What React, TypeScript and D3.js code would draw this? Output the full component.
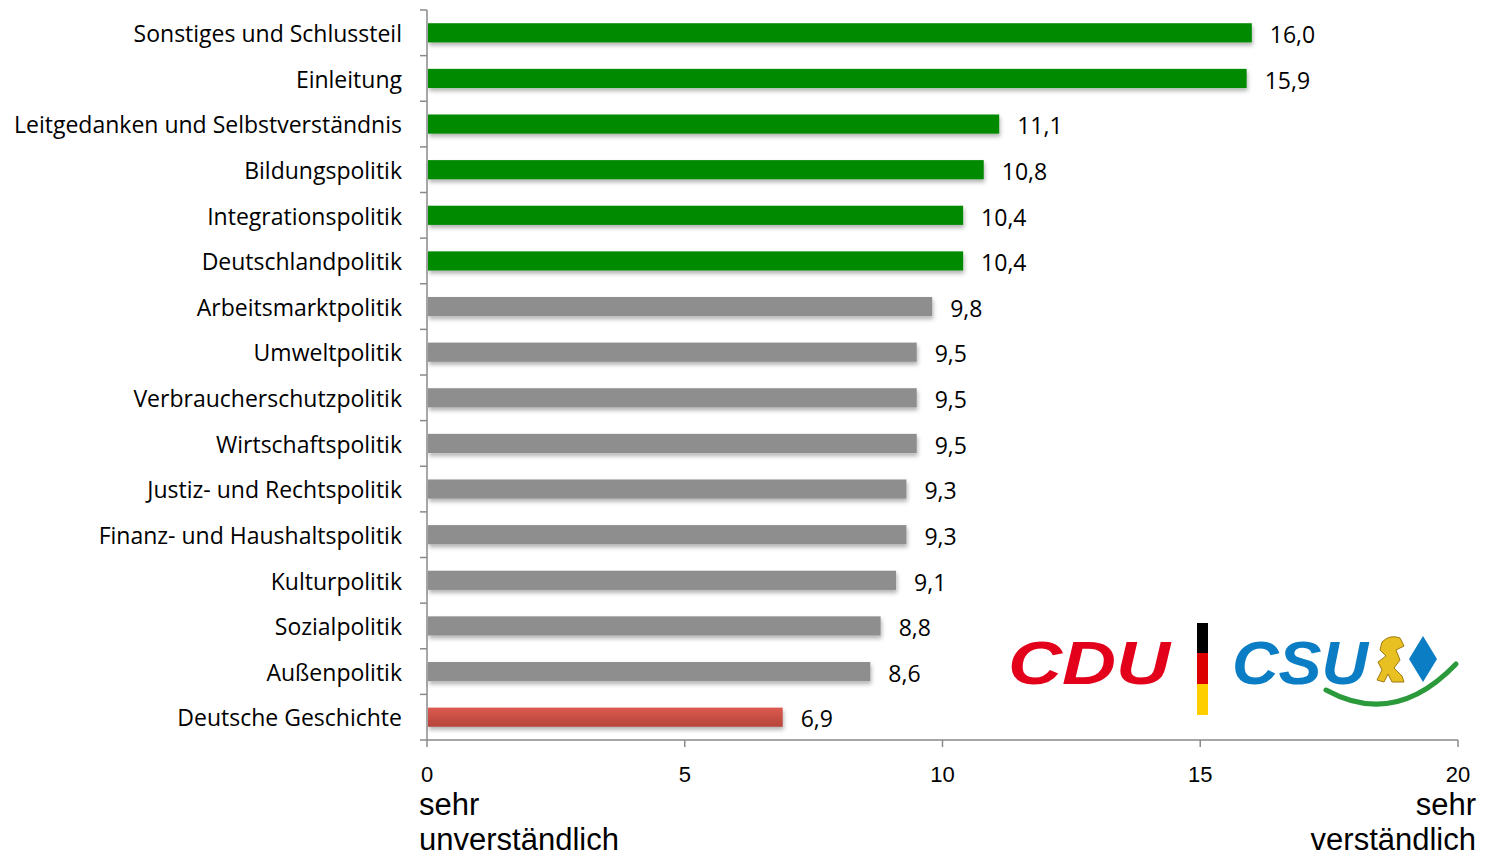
import React from "react";
import * as d3 from "d3";

const categories = [
  "Sonstiges und Schlussteil",
  "Einleitung",
  "Leitgedanken und Selbstverständnis",
  "Bildungspolitik",
  "Integrationspolitik",
  "Deutschlandpolitik",
  "Arbeitsmarktpolitik",
  "Umweltpolitik",
  "Verbraucherschutzpolitik",
  "Wirtschaftspolitik",
  "Justiz- und Rechtspolitik",
  "Finanz- und Haushaltspolitik",
  "Kulturpolitik",
  "Sozialpolitik",
  "Außenpolitik",
  "Deutsche Geschichte",
];
const values = [16.0, 15.9, 11.1, 10.8, 10.4, 10.4, 9.8, 9.5, 9.5, 9.5, 9.3, 9.3, 9.1, 8.8, 8.6, 6.9];
const groups = ["top", "top", "top", "top", "top", "top", "mid", "mid", "mid", "mid", "mid", "mid", "mid", "mid", "mid", "low"];
const xTicks = [0, 5, 10, 15, 20];

const W = 1485, H = 856;
const left = 427, right = 1458, top = 10, bottom = 740;

export default function App() {
  const x = d3.scaleLinear().domain([0, 20]).range([left, right]);
  const y = d3.scaleBand().domain(categories).range([top, bottom]).paddingInner(0.58).paddingOuter(0.29);
  const band = (bottom - top) / categories.length;
  const fill = (g: string) => (g === "top" ? "#008a00" : g === "mid" ? "#8e8e8e" : "url(#redGrad)");
  const labelFont = "'Open Sans', 'Noto Sans', sans-serif";
  const axisFont = "'Liberation Sans', Arial, sans-serif";
  const fmt = (v: number) => v.toFixed(1).replace(".", ",");

  return (
    <svg width={W} height={H} style={{ position: "absolute", left: 0, top: 0, background: "#fff" }}>
      <defs>
        <linearGradient id="redGrad" x1="0" y1="0" x2="0" y2="1">
          <stop offset="0" stopColor="#dc5a50" />
          <stop offset="1" stopColor="#b5443a" />
        </linearGradient>
        <filter id="shadow" x="-5%" y="-50%" width="110%" height="220%">
          <feDropShadow dx="1" dy="3" stdDeviation="2" floodColor="#000" floodOpacity="0.3" />
        </filter>
      </defs>

      {/* bars */}
      {categories.map((c, i) => (
        <rect
          key={c}
          x={x(0) + 1}
          y={y(c)!}
          width={x(values[i]) - x(0) - 1}
          height={y.bandwidth()}
          fill={fill(groups[i])}
          filter="url(#shadow)"
        />
      ))}

      {/* y axis */}
      <line x1={left} x2={left} y1={top} y2={bottom} stroke="#8a8a8a" strokeWidth={1.5} />
      {d3.range(categories.length + 1).map((k) => (
        <line key={k} x1={left - 7} x2={left} y1={top + k * band} y2={top + k * band} stroke="#8a8a8a" strokeWidth={1.5} />
      ))}
      {/* x axis */}
      <line x1={left} x2={right} y1={bottom} y2={bottom} stroke="#8a8a8a" strokeWidth={1.5} />
      {xTicks.map((t) => (
        <line key={t} x1={x(t)} x2={x(t)} y1={bottom} y2={bottom + 7} stroke="#8a8a8a" strokeWidth={1.5} />
      ))}
      {xTicks.map((t) => (
        <text key={"l" + t} x={x(t)} y={782} fontFamily={axisFont} fontSize={22} textAnchor="middle" fill="#000">
          {t}
        </text>
      ))}

      {/* category labels */}
      {categories.map((c) => (
        <text
          key={"c" + c}
          x={402}
          y={y(c)! + y.bandwidth() / 2 + 1}
          dy="0.36em"
          fontFamily={labelFont}
          fontSize={23}
          textAnchor="end"
          fill="#000"
        >
          {c}
        </text>
      ))}

      {/* value labels */}
      {categories.map((c, i) => (
        <text
          key={"v" + c}
          x={x(values[i]) + 18}
          y={y(c)! + y.bandwidth() / 2 + 2}
          dy="0.36em"
          fontFamily={labelFont}
          fontSize={23}
          fill="#000"
        >
          {fmt(values[i])}
        </text>
      ))}

      {/* axis titles */}
      <text x={419} y={815} fontFamily={axisFont} fontSize={31} fill="#000">sehr</text>
      <text x={419} y={850} fontFamily={axisFont} fontSize={31} fill="#000">unverständlich</text>
      <text x={1476} y={815} fontFamily={axisFont} fontSize={31} fill="#000" textAnchor="end">sehr</text>
      <text x={1476} y={850} fontFamily={axisFont} fontSize={31} fill="#000" textAnchor="end">verständlich</text>

      {/* logo */}
      <g>
        <text x={1008} y={684} fontFamily="'Liberation Sans', Arial, sans-serif" fontWeight="bold" fontStyle="italic" fontSize={62} fill="#e2001a" textLength={162} lengthAdjust="spacingAndGlyphs">CDU</text>
        <rect x={1197} y={623} width={11} height={30} fill="#000" />
        <rect x={1197} y={653} width={11} height={31} fill="#dd0000" />
        <rect x={1197} y={684} width={11} height={31} fill="#ffce00" />
        <text x={1232} y={684} fontFamily="'Liberation Sans', Arial, sans-serif" fontWeight="bold" fontStyle="italic" fontSize={62} fill="#0a7dc4" textLength={136} lengthAdjust="spacingAndGlyphs">CSU</text>
        <path d="M1326,690 Q1395,728 1456,664" fill="none" stroke="#2a9a3a" strokeWidth={5} strokeLinecap="round" />
        <path d="M1382,642 Q1390,634 1400,638 L1404,646 L1396,650 L1400,660 L1394,668 L1402,676 L1404,682 L1392,682 L1388,674 L1384,682 L1377,680 L1382,670 L1378,662 L1386,656 L1380,650 Z" fill="#e8c022" stroke="#a07a10" strokeWidth={1} />
        <path d="M1423,636 L1437,659 L1423,682 L1409,659 Z" fill="#0a7dc4" />
      </g>
    </svg>
  );
}
